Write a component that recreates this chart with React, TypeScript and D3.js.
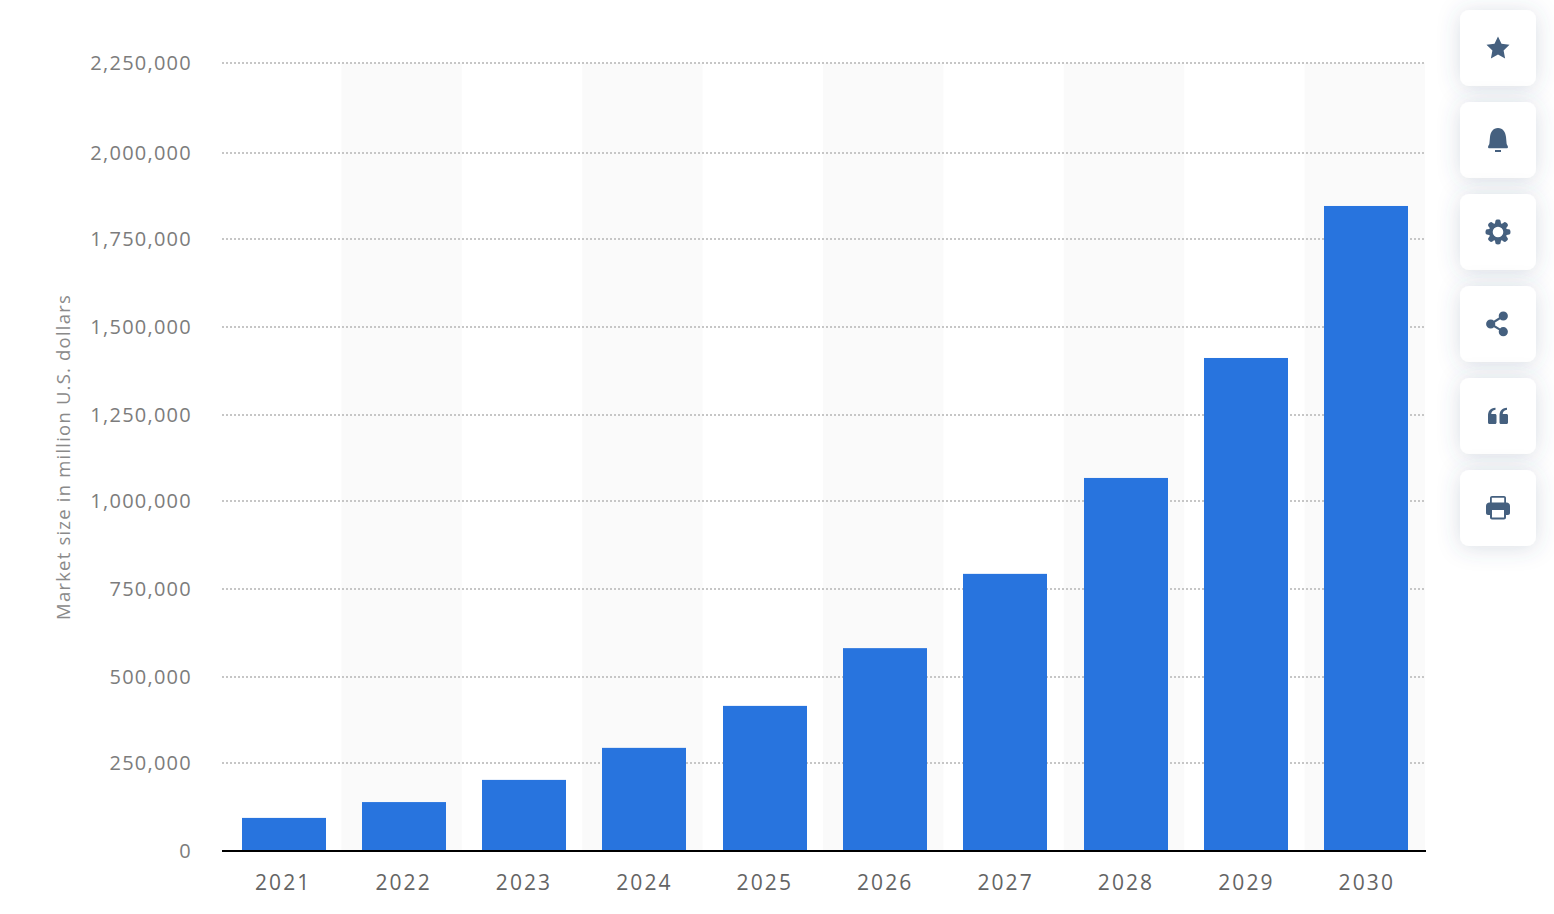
import React, { useEffect, useRef } from 'react';
import * as d3 from 'd3';

const years = ['2021', '2022', '2023', '2024', '2025', '2026', '2027', '2028', '2029', '2030'];
const marketSize = [94000, 139000, 202000, 294000, 416000, 582000, 793000, 1067000, 1412000, 1846000];
const yTicks = [0, 250000, 500000, 750000, 1000000, 1250000, 1500000, 1750000, 2000000, 2250000];
// gridlines in the source are snapped to whole pixels, so the scale is calibrated on them
const yTickPixels = [851, 763, 677, 589, 501, 415, 327, 239, 153, 63];
const yTitle = 'Market size in million U.S. dollars';

// closed gear outline, 8 lobes, in a 24x24 box
const gearAngles = d3.range(8).flatMap((i) => {
  const a = (i * Math.PI) / 4;
  return [
    [a - 0.17, 12.2],
    [a + 0.17, 12.2],
    [a + Math.PI / 8, 8.9],
  ] as [number, number][];
});
const gearPath =
  (d3.lineRadial().curve(d3.curveCatmullRomClosed.alpha(0.5))(gearAngles) as string)
    .replace(/(-?[\d.]+),(-?[\d.]+)/g, (_, px, py) => `${+px + 12},${+py + 12}`) +
  'M12 6.700a5.300 5.300 0 1 0 0 10.600 5.300 5.300 0 0 0 0-10.600z';

const circlePath = (cx: number, cy: number, r: number) =>
  `M${cx - r} ${cy}a${r} ${r} 0 1 1 ${2 * r} 0a${r} ${r} 0 1 1 ${-2 * r} 0z`;

// sidebar icons, drawn in a 24x24 box
const iconPaths = [
  'M12 .4l3.500 7.400 8 1-5.900 5.600 1.500 8.100-7.100-4-7.100 4 1.500-8.100L.5 8.800l8-1z',
  'M12 0c5 0 7.500 4 8 9l.6 6.500c.1 1.500 1.400 2.300 1.400 3.500 0 .9-.6 1.300-1.500 1.300h-17c-.9 0-1.500-.4-1.500-1.300 0-1.200 1.300-2 1.400-3.500L4 9c.5-5 3-9 8-9zM9 22h6v2H9z',
  gearPath,
  circlePath(17.300, 4, 4.600) +
    circlePath(17.300, 19.700, 4.600) +
    circlePath(4.700, 12, 4.600) +
    'M16.800 3.100l1 1.800-12.600 8-1-1.800zM17.800 18.800l-1 1.800-12.600-7.700 1-1.800z',
  'M2 12c0-5 2-8 7.500-8.300v2c-2.500.3-4 1.800-4.300 4.300H9c.9 0 1.500.6 1.500 1.500v7c0 .9-.6 1.500-1.500 1.500H3.500C2.600 20 2 19.400 2 18.500zM13.500 12c0-5 2-8 7.500-8.300v2c-2.500.3-4 1.800-4.300 4.300h3.800c.9 0 1.500.6 1.500 1.500v7c0 .9-.6 1.500-1.500 1.500H15c-.9 0-1.500-.6-1.500-1.500z',
  'M4 6.500V2c0-1.100.9-2 2-2h12c1.100 0 2 .9 2 2v4.500h.5c2 0 3.500 1.500 3.500 3.500v7c0 1.100-.9 2-2 2h-2v2.500c0 1.100-.9 2-2 2H6c-1.100 0-2-.9-2-2V19H2c-1.100 0-2-.9-2-2v-7c0-2 1.500-3.500 3.500-3.500zM5.800 6.500h12.400V1.800H5.800zM6 14v7.600h12V14z',
];
const iconRules = ['nonzero', 'nonzero', 'evenodd', 'nonzero', 'nonzero', 'evenodd'];

const font = '"Open Sans", sans-serif';

const App: React.FC = () => {
  const svgRef = useRef<SVGSVGElement | null>(null);

  useEffect(() => {
    const svg = d3.select(svgRef.current);
    svg.selectAll('*').remove();

    const x = d3.scaleBand<string>().domain(years).range([223.4, 1426.4]).paddingInner(0.3).paddingOuter(0.15);
    const stripe = d3.scaleBand<string>().domain(years).range([221, 1425]);
    const y = d3.scaleLinear().domain(yTicks).range(yTickPixels);
    const fmt = d3.format(',');

    // alternating column stripes
    svg.append('g')
      .selectAll('rect')
      .data(years.filter((_, i) => i % 2 === 1))
      .join('rect')
      .attr('x', (d) => stripe(d)!)
      .attr('y', 63)
      .attr('width', stripe.bandwidth())
      .attr('height', 788)
      .attr('fill', '#fafafa');

    // gridlines
    svg.append('g')
      .selectAll('line')
      .data(yTicks.slice(1))
      .join('line')
      .attr('x1', 222)
      .attr('x2', 1425)
      .attr('y1', (d) => y(d))
      .attr('y2', (d) => y(d))
      .attr('stroke', '#c6c6c6')
      .attr('stroke-width', 2)
      .attr('stroke-dasharray', '2 2');

    // y tick labels
    svg.append('g')
      .selectAll('text')
      .data(yTicks)
      .join('text')
      .attr('x', 192)
      .attr('y', (d) => y(d))
      .attr('dy', '0.36em')
      .attr('text-anchor', 'end')
      .attr('font-family', font)
      .attr('font-size', 20)
      .attr('letter-spacing', 1.25)
      .attr('fill', '#7c7c7c')
      .text((d) => fmt(d));

    // y axis title
    svg.append('text')
      .attr('transform', 'translate(70,457) rotate(-90)')
      .attr('text-anchor', 'middle')
      .attr('font-family', font)
      .attr('font-size', 18.5)
      .attr('letter-spacing', 1.2)
      .attr('fill', '#8a8a8a')
      .text(yTitle);

    // bars
    const barW = 84;
    svg.append('g')
      .selectAll('rect')
      .data(years)
      .join('rect')
      .attr('x', (d) => Math.round(x(d)! + x.bandwidth() / 2 - barW / 2))
      .attr('y', (_, i) => y(marketSize[i]))
      .attr('width', barW)
      .attr('height', (_, i) => y(0) - y(marketSize[i]))
      .attr('fill', '#2874de');

    // baseline
    svg.append('line')
      .attr('x1', 222)
      .attr('x2', 1426)
      .attr('y1', 851)
      .attr('y2', 851)
      .attr('stroke', '#000')
      .attr('stroke-width', 2);

    // x tick labels
    svg.append('g')
      .selectAll('text')
      .data(years)
      .join('text')
      .attr('x', (d) => stripe(d)! + stripe.bandwidth() / 2 + 2)
      .attr('y', 890)
      .attr('text-anchor', 'middle')
      .attr('font-family', font)
      .attr('font-size', 21)
      .attr('letter-spacing', 2.1)
      .attr('fill', '#646464')
      .text((d) => d);

    // sidebar buttons
    const defs = svg.append('defs');
    const shadow = defs.append('filter')
      .attr('id', 'cardShadow')
      .attr('x', '-60%')
      .attr('y', '-60%')
      .attr('width', '220%')
      .attr('height', '220%');
    shadow.append('feDropShadow')
      .attr('dx', 0)
      .attr('dy', 2)
      .attr('stdDeviation', 11)
      .attr('flood-color', '#3f5a7a')
      .attr('flood-opacity', 0.2);

    const cards = svg.append('g')
      .selectAll('g')
      .data(iconPaths)
      .join('g')
      .attr('transform', (_, i) => `translate(1460,${10 + i * 92})`);

    cards.append('rect')
      .attr('width', 76)
      .attr('height', 76)
      .attr('rx', 9)
      .attr('fill', '#fff')
      .attr('filter', 'url(#cardShadow)');

    cards.append('path')
      .attr('d', (d) => d)
      .attr('transform', 'translate(26,26)')
      .attr('fill', '#45607f')
      .attr('fill-rule', (_, i) => iconRules[i]);
  }, []);

  return (
    <svg
      ref={svgRef}
      width={1554}
      height={914}
      style={{ position: 'absolute', left: 0, top: 0, background: '#fff' }}
    />
  );
};

export default App;
